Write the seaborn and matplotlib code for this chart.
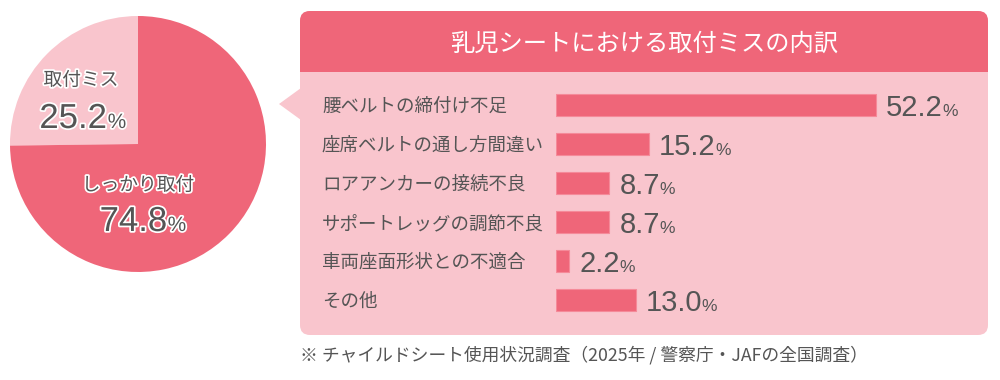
import matplotlib
matplotlib.use("Agg")
import matplotlib.pyplot as plt
import seaborn as sns
import pandas as pd
from matplotlib.patches import FancyBboxPatch, Rectangle, Polygon
import matplotlib.patheffects as pe

# ---- data ----
pie_labels = ["取付ミス", "しっかり取付"]
pie_values = [25.2, 74.8]

categories = ["腰ベルトの締付け不足", "座席ベルトの通し方間違い", "ロアアンカーの接続不良",
              "サポートレッグの調節不良", "車両座面形状との不適合", "その他"]
values = [52.2, 15.2, 8.7, 8.7, 2.2, 13.0]

title = "乳児シートにおける取付ミスの内訳"
note = "※ チャイルドシート使用状況調査（2025年 / 警察庁・JAFの全国調査）"

# ---- style ----
DARK = "#EF6679"
LIGHT = "#F9C5CD"
TXT = "#555555"
sns.set_theme(style="white")
plt.rcParams["font.family"] = ["Noto Sans CJK JP", "DejaVu Sans"]
NUMFONT = ["Liberation Sans", "DejaVu Sans"]

W, H = 1000, 380
fig = plt.figure(figsize=(W / 100, H / 100), dpi=100)
fig.patch.set_facecolor("white")

# background axes in pixel coordinates
bg = fig.add_axes([0, 0, 1, 1], zorder=0)
bg.set_xlim(0, W)
bg.set_ylim(H, 0)
bg.axis("off")

# panel
px0, px1, py0, py1 = 300, 988, 11, 335
bg.add_patch(FancyBboxPatch((px0 + 10, py0 + 10), (px1 - px0) - 20, (py1 - py0) - 20,
                            boxstyle="round,pad=10", fc=LIGHT, ec="none"))
hy1 = 72
bg.add_patch(FancyBboxPatch((px0 + 10, py0 + 10), (px1 - px0) - 20, (hy1 - py0) - 20,
                            boxstyle="round,pad=10", fc=DARK, ec="none"))
bg.add_patch(Rectangle((px0, 45), px1 - px0, hy1 - 45, fc=DARK, ec="none"))
bg.add_patch(Polygon([(279, 104), (301, 88), (301, 120)], closed=True, fc=LIGHT, ec="none"))
bg.text((px0 + px1) / 2, 43.5, title, color="white", fontsize=17.5, ha="center", va="center")
bg.text(300, 355, note, color=TXT, fontsize=12.8, ha="left", va="center")

# ---- pie ----
cx, cy, r = 138, 144, 128
pax = fig.add_axes([(cx - r) / W, (H - cy - r) / H, 2 * r / W, 2 * r / H], zorder=1)
pax.pie(pie_values, colors=[LIGHT, DARK], startangle=90, counterclock=True,
        wedgeprops=dict(linewidth=0))
pax.set_xlim(-1, 1)
pax.set_ylim(-1, 1)
pax.set_aspect("equal")

halo = [pe.withStroke(linewidth=2.5, foreground="white")]
pie_pos = [(81, 80, 107, 128), (138, 185, 167, 231)]
for lab, val, (lx, ly, sx, by) in zip(pie_labels, pie_values, pie_pos):
    pax.text(lx, ly, lab, transform=bg.transData, color=TXT, fontsize=13.5,
             ha="center", va="center", path_effects=halo)
    t = pax.text(sx, by, f"{val:.1f}", transform=bg.transData, color=TXT, fontsize=25,
                 family=NUMFONT, ha="right", va="baseline", path_effects=halo)
    pax.annotate("%", xy=(1, by), xycoords=(t, bg.transData), xytext=(0.5, 0),
                 textcoords="offset points", color=TXT, fontsize=15, family=NUMFONT,
                 ha="left", va="baseline", path_effects=halo)

# ---- bars ----
row0, step = 105, 39
top = row0 - step / 2
bottom = row0 + step * (len(values) - 1) + step / 2
bax = fig.add_axes([0.556, (H - bottom) / H, 0.429, (bottom - top) / H], zorder=2)
bax.patch.set_alpha(0)
df = pd.DataFrame({"cat": categories, "val": values})
sns.barplot(data=df, x="val", y="cat", orient="h", color=DARK, saturation=1,
            width=0.56, ax=bax, edgecolor="#F58A99", linewidth=0.8)
bax.set_xlim(0, 70)
bax.set_ylim(len(values) - 0.5, -0.5)
bax.set_xlabel("")
bax.set_ylabel("")
bax.set_xticks([])
for s in bax.spines.values():
    s.set_visible(False)
bax.tick_params(axis="y", length=0, pad=168.5, labelsize=13.3, labelcolor=TXT)
for lab in bax.get_yticklabels():
    lab.set_ha("left")

for i, v in enumerate(values):
    yb = i + 11 / step
    t = bax.text(v + 10 / 6.13, yb, f"{v:.1f}", color=TXT, fontsize=21, family=NUMFONT,
                 ha="left", va="baseline")
    bax.annotate("%", xy=(1, yb), xycoords=(t, "data"), xytext=(-0.5, 0),
                 textcoords="offset points", color=TXT, fontsize=12.5, family=NUMFONT,
                 ha="left", va="baseline")

fig.savefig("out.png", dpi=100, facecolor="white")
